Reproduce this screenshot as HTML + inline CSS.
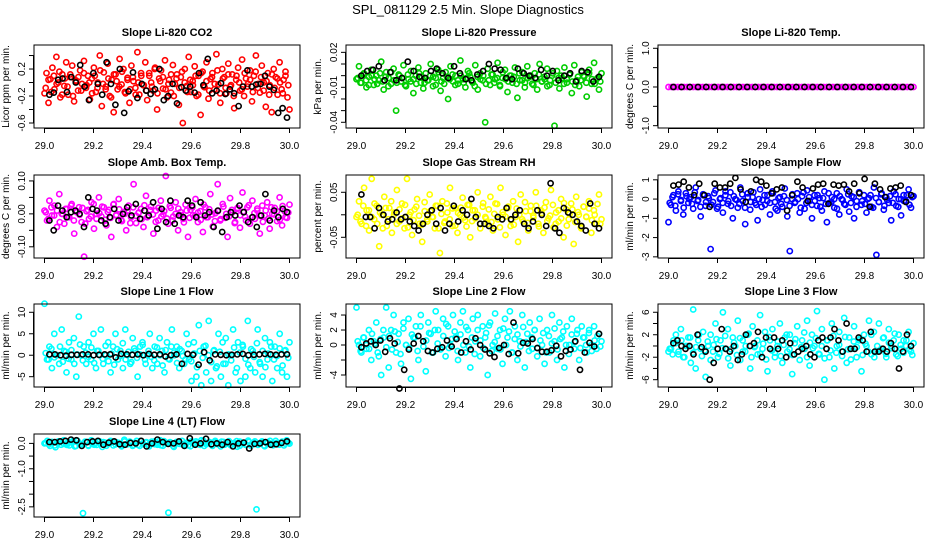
<!DOCTYPE html>
<html><head><meta charset="utf-8"><style>
html,body{margin:0;padding:0;background:#fff;}
svg{display:block;font-family:"Liberation Sans",Arial,sans-serif;}
</style></head><body>
<svg id="chart" width="936" height="540" viewBox="0 0 936 540">
<text x="468" y="14" text-anchor="middle" font-size="13">SPL_081129  2.5 Min. Slope Diagnostics</text>
</svg>
<script>
// x-axis values (days)
const xTicks = [29.0, 29.2, 29.4, 29.6, 29.8, 30.0];
const xTickLabels = ["29.0", "29.2", "29.4", "29.6", "29.8", "30.0"];
const xMin = 29.0, xMax = 30.0;

// Panel 1: CO2 (units 0.01)
const co2Vals = [-16,14,-30,5,22,-10,38,0,-22,12,-5,30,-18,8,25,-28,3,-12,18,-2,32,-8,10,-25,6,22,-14,0,40,-35,15,-6,28,-20,4,-44,12,-10,35,-3,20,-16,7,-30,25,2,-8,45,-18,10,-4,30,-26,14,0,-12,22,-40,6,18,-9,33,-22,4,-15,26,-2,12,-33,8,-60,20,-5,38,-14,2,24,-20,10,-48,16,-7,30,-24,5,14,-10,42,-3,-30,20,8,-16,28,-6,12,-38,4,22,-12,34,-20,6,-2,18,-28,10,40,-8,-15,25,0,-36,14,-4,-44,20,8,-18,30,-10,4,16,-22,-40];
const co2Core = [-8,4,-14,10,-2,16,-18,6,-6,12,-20,2,8,-12,14,-4,0,-16,10,-8,18,-2,-10,6,-22,12,2,-6,16,-14,4,-10,8,-18,0,14,-4,-12,10,-6,20,-16,2,8,-10,-2,12,-20,6,-8,16,0,-14,4,-4,10,-18,14,-6,2,-12,8,-2,18,-16,6,-8,12,-4,-20,10,0,-10,14,-6,4,-14,16,-2,8,-12,2,-18,12,-8,6,0,-16,10,-4];
const co2Black = [-18,-15,4,6,-14,8,0,26,-6,-26,14,-2,-18,30,-2,-33,20,-45,-13,15,-23,-2,-12,-17,-10,20,-26,-20,-2,-31,-7,-12,-6,-15,14,-4,35,-16,-12,-1,-17,-10,-16,-35,-6,18,-6,-3,-2,10,-6,-11,-45,-38,-52];
// Panel 2: pressure (units 0.001)
const presVals = [-3,8,-6,2,-10,-1,5,-8,0,-4,12,-12,3,-2,-7,6,-30,1,-5,9,-9,-3,4,-15,0,7,-6,-11,2,-4,10,-1,-8,5,-13,-2,3,-20,8,-5,0,-7,13,-3,-10,4,-1,-6,9,-12,2,-4,-40,6,-8,1,-3,11,-9,-2,5,-14,0,-6,7,-19,-4,3,-10,8,-1,-7,2,-12,10,-5,-3,6,-8,0,-43,4,-11,-2,7,-6,1,-15,9,-4,-9,3,-1,-18,5,-7,11,-3,-12,2];
const presCore = [-2,-6,1,-4,-8,0,-3,-7,2,-5,-1,-9,3,-4,-6,0,-2,-8,1,-5,-3,-7,2,-1,-6,-4,0,-9,-2,3,-5,-7,-1,-3,1,-8,-4,0,-6,-2,2,-5,-9,-1,-3,0,-7,-4,1,-6,-2,-8,3,-3,-5,0,-1,-7,2,-4,-6,-2,0,-8,-3,1,-5,-1,-9,-4,2,-6,-2,0,-7,-3,1,-5,-8,-1,-4,0,-6,2,-3,-7,-2,-5];
const presBlack = [0,4,5,8,-4,3,-4,-2,12,4,-1,-2,4,6,2,-2,8,2,-3,-4,1,4,10,6,5,-2,-3,6,2,0,-2,5,0,4,-4,0,2,-5,4,3,-5,-1];
// Panel 3: Li-820 temp
const tempVals = [0,0,0,0,0,0,0,0,0,0,0,0,0,0,0,0,0,0,0,0,0,0,0,0,0,0,0,0,0,0,0,0,0,0,0,0,0,0,0,0,0,0,0,0,0,0,0,0,0,0,0,0,0,0,0,0,0,0,0,0,0,0,0,0,0,0,0,0,0,0,0,0,0,0,0,0,0,0,0,0];
const tempCore = [];
const tempBlack = [0,0,0,0,0,0,0,0,0,0,0,0,0,0,0,0,0,0,0,0,0,0,0,0,0,0,0,0,0,0];
// Panel 4: amb box temp (units 0.001)
const ambVals = [10,-20,40,-5,25,-40,60,0,-30,15,-10,30,-60,5,20,-25,-130,8,-15,35,-45,0,50,-8,20,-35,12,-70,30,-3,45,-18,6,-50,25,-10,90,-28,3,15,-40,55,-6,22,-60,10,-20,40,-2,115,-30,18,-8,35,-50,5,-15,28,-70,12,-4,45,-25,8,-55,20,-10,60,-38,2,90,-20,30,-12,-70,48,5,-25,15,-42,65,-8,20,-30,40,-15,10,-60,25,-5,35,-45,0,18,-22,50,-35,8,-12,28];
const ambCore = [5,-15,20,-5,10,-25,0,15,-10,25,-20,8,-3,18,-30,12,-8,30,-15,2,22,-18,6,-12,28,-5,14,-22,0,10,-28,20,-6,4,-16,26,-10,12,-2,-24,18,-8,8,-14,24,-20,0,16,-4,-26,10,-12,20,-6,4,-18,28,-10,14,-2,-22,8,-16,22,0,-8,12,-28,18,-4,6,-20,26,-12,2,16,-6,-24,10,-14,20,-2,8,-18,24,-10,4];
const ambBlack = [-20,-50,25,10,-10,5,10,0,-40,50,15,10,-20,-30,-10,15,-20,0,20,-5,30,-15,10,-5,35,-45,15,-25,40,-30,-5,-10,40,25,-10,35,-5,5,-40,10,-55,-10,5,-5,25,5,-25,-10,-40,-5,60,-20,10,-10,15,5];
// Panel 5: RH (units 0.001)
const rhVals = [-5,30,-20,60,10,-35,80,-10,20,-70,0,40,-25,15,-40,5,55,-15,25,-30,80,0,-45,12,35,-20,-60,8,-10,45,-5,-30,20,-85,30,-15,5,60,-25,15,-40,0,38,-12,22,-50,10,-8,50,-30,18,-5,-20,40,-35,25,-10,60,0,-45,15,-25,30,-5,-60,45,-15,8,-35,20,-2,50,-20,10,-40,28,-8,55,-28,5,-15,35,-50,12,-10,25,-65,40,0,-30,18,-5,30,-40,10,-20,45,-10];
const rhCore = [0,-15,20,-25,10,-5,25,-20,5,-30,15,-10,30,0,-20,12,-8,22,-28,6,-12,18,-2,-22,28,-15,8,-5,20,-30,2,-18,25,-10,14,-24,4,16,-6,-26,22,-14,10,0,-20,26,-8,12,-16,2,24,-28,6,-4,18,-12,-22,14,0,-10,28,-18,8,-6,20,-26,4,16,-14,-2,22,-20,10,-8,26,-24,2,12,-16,6,-28,18,-4,14,-12,0,24,-20];
const rhBlack = [45,-5,-5,-30,15,0,-15,-10,5,-10,-5,-15,-25,-35,-20,0,10,-20,15,-35,-20,20,-15,10,0,35,-5,-20,-20,-25,-30,-5,-10,15,-10,0,10,-20,-30,-15,10,0,-25,70,-30,-40,15,5,0,-15,-25,-35,25,-20,-30];
// Panel 6: sample flow (units 0.01)
const flowVals = [-120,-30,20,-60,40,-10,-80,30,-20,10,-50,60,-5,-90,25,-35,15,-260,-15,45,-40,5,-70,20,-25,35,-100,0,-45,60,-10,-130,30,-55,10,-20,-110,50,-5,-30,20,-80,40,-15,-60,10,-40,55,-90,-270,0,-20,30,-70,15,-50,45,-10,-100,20,-35,5,-60,40,-120,-20,10,-45,30,-80,0,-25,50,-65,15,-100,-10,35,-30,20,-70,5,-40,60,-290,-15,25,-55,10,-20,-110,40,-35,0,-85,20,-10,50,-45,15];
const flowCore = [-20,10,-35,25,-5,-45,15,0,-25,35,-10,-40,20,-15,5,-30,30,-50,0,-20,40,-10,-35,15,-5,-25,25,-45,10,-15,35,-30,0,-40,20,-10,-20,30,-50,5,-25,15,-5,-35,25,-15,0,-45,35,-20,10,-30,-10,20,-40,5,-25,30,-15,0,-50,15,-5,-30,25,-20,10,-40,35,-10,-25,0,20,-45,5,-15,30,-35,-5,15,-20,25,-40,0,-10,20,-30,10];
const flowBlack = [70,75,90,60,20,80,20,-40,80,60,60,80,110,50,-15,40,100,90,70,30,50,60,-60,20,90,60,-10,55,75,80,-25,75,70,75,40,80,30,105,-40,80,50,10,55,60,70,-15,20];
// Panel 7: line 1 (units 0.1)
const l1Vals = [120,-10,20,-30,50,0,-20,60,10,-40,30,-10,40,-50,90,0,20,-20,30,-10,50,-30,10,60,-20,0,30,-40,20,50,-10,10,-30,60,0,-20,40,10,-50,20,30,-10,0,50,-30,20,-20,40,10,-40,30,-10,60,0,20,-30,10,-20,50,-10,-60,30,-50,70,-70,20,-40,80,-60,10,-30,50,-50,-20,40,-70,0,60,-40,30,-60,20,-50,80,-30,10,-40,60,-20,-50,40,-10,30,-60,20,-30,50,-40,10,-50,30];
const l1Core = [5,-10,15,-5,0,20,-15,8,-8,12,-20,2,25,-12,6,-4,18,-18,10,0,-8,22,-14,4,-22,14,-2,28,-10,8,-16,16,-6,2,24,-20,10,-4,-12,18,0,-24,12,-8,20,6,-18,14,-2,-10,26,-14,4,-28,10,-6,22,0,-16,12,-26,8,30,-20,2,-12,18,-30,6,24,-8,-22,14,-4,28,-16,10,-28,4,20,-10,-2,16,-24,12,-6];
const l1Black = [2,2,0,-1,1,1,2,2,0,1,2,2,-5,3,2,1,2,0,3,1,2,-3,0,2,-20,3,1,-22,7,-12,2,1,0,1,2,3,0,1,2,3,2,1,2,2];
// Panel 8: line 2 (units 0.1)
const l2Vals = [50,0,-10,10,-5,20,-20,5,30,-15,-40,10,50,-30,20,40,-10,15,-25,30,0,35,-45,10,25,-20,40,5,-35,30,15,-10,45,20,-5,35,-15,25,0,40,10,-20,30,45,-10,20,-30,35,5,40,-15,25,10,-40,30,0,42,-5,20,-25,35,10,45,-10,25,-20,5,40,-30,15,30,-5,20,-15,35,0,-25,20,-10,40,5,-20,30,10,-30,25,0,35,-5,15,-20,25,10,-10,20,0,25,-5,15,5];
const l2Core = [5,-8,10,0,-5,15,2,-10,8,20,-3,12,-6,18,4,-12,22,0,-4,14,10,-8,25,-2,6,16,-10,20,2,-6,12,28,-4,8,18,-8,14,0,24,-2,10,-12,20,6,-4,16,26,-8,4,12,-6,22,0,18,-10,8,14,-2,24,4,-8,10,20,-4,6,16,-10,12,2,22,-6,8,18,0,-12,14,4,20,-4,10,0,16,-8,6,12,-2];
const l2Black = [-3,2,5,0,6,-9,9,2,-58,-33,-6,2,12,5,-8,-10,-5,-3,6,-2,8,-10,5,-6,9,0,-6,-11,-16,-4,0,-12,30,-11,3,2,8,-4,-9,-9,-7,-1,-15,-8,-6,5,-33,-10,3,-2,15];
// Panel 9: line 3 (units 0.1)
const l3Vals = [-10,-5,10,20,-15,30,-20,0,15,-30,65,-40,10,-5,25,-55,0,20,-10,40,-20,10,60,-5,30,-35,15,0,45,-25,10,-10,20,-40,35,0,-15,55,-5,25,-45,10,30,-20,0,40,-30,15,-10,20,-50,5,35,-25,10,-5,45,-35,20,0,62,-15,30,-60,10,-20,40,-40,0,25,-10,50,-30,15,-5,35,-20,10,-45,20,0,45,-15,25,-10,40,-5,15,-20,30,0,10,-15,20,-5,10,0,25,-10,5];
const l3Core = [-5,-15,5,-10,10,-20,0,15,-12,-2,20,-18,-8,8,-25,2,12,-14,-4,18,-22,-6,6,-16,14,-10,0,22,-20,-2,10,-14,4,-24,16,-8,-12,8,-18,2,20,-6,-16,12,-10,-2,24,-20,6,-4,14,-14,0,-22,10,-8,18,-12,2,-18,16,-6,-24,8,-2,12,-16,4,-10,20,-20,0,-8,14,-14,6,-4,22,-18,2,-12,10,-6,-16];
const l3Black = [5,10,0,-5,0,-15,20,-2,-10,-60,-30,-5,30,-5,-10,0,-25,-15,20,0,5,25,-20,15,-5,15,-5,10,-20,5,-15,-10,-5,0,-15,-20,10,15,-5,15,30,10,-10,40,-5,-5,15,10,-10,25,-10,-10,-5,-10,5,-5,-40,-10,20,0];
// Panel 10: line 4 (units 0.01)
const l4Vals = [0,10,-10,5,-15,8,-5,12,0,-8,6,-12,10,-3,-275,5,-10,12,0,-6,8,-14,3,-2,10,-8,5,0,-12,14,-4,7,-10,2,-6,10,-3,5,-12,0,8,-5,12,-9,3,-273,0,-14,6,-2,10,-7,4,-11,1,8,-4,12,-10,0,5,-8,10,-3,-12,6,-1,9,-6,2,-13,7,0,-5,11,-9,3,-260,-2,8,-11,5,0,-7,10,-4,2,-8,12,-1];
const l4Core = [2,-4,6,-8,0,8,-2,-6,4,10,-10,1,-3,7,-7,3,-5,9,-1,5,-9,0,6,-4,2,-8,8,-2,4,-6,10,-10,0,3,-5,7,-3,1,-7,9,-1,5,-9,2,6,-4,0,-8,8,-2,4,-6,10,-3,1,-10,5,-1,7,-5,3,-7,0,9,-9,2,-4,6,-2,8,-6,4,-8,0,10,-3,1,-5,7,-1,3];
const l4Black = [5,5,8,10,15,12,-10,5,8,10,-5,3,8,-3,-5,2,0,10,-12,0,15,5,-2,0,8,-10,20,-5,0,18,-3,0,-5,5,-12,0,3,-20,-2,0,5,-5,-3,2,8];

// y tick values and labels per panel
const yTicks1 = [-0.6,-0.4,-0.2,0,0.2,0.4]; const yLabels1 = ["-0.6","","-0.2","","0.2",""];
const yTicks2 = [-0.04,-0.03,-0.02,-0.01,0,0.01,0.02]; const yLabels2 = ["-0.04","","","-0.01","","","0.02"];
const yTicks3 = [-1,-0.5,0,0.5,1]; const yLabels3 = ["-1.0","","0.0","","1.0"];
const yTicks4 = [-0.1,-0.05,0,0.05,0.1]; const yLabels4 = ["-0.10","","0.00","","0.10"];
const yTicks5 = [-0.05,0,0.05]; const yLabels5 = ["-0.05","","0.05"];
const yTicks6 = [-3,-2,-1,0,1]; const yLabels6 = ["-3","-2","-1","0","1"];
const yTicks7 = [-5,0,5,10]; const yLabels7 = ["-5","0","5","10"];
const yTicks8 = [-4,-2,0,2,4]; const yLabels8 = ["-4","","0","2","4"];
const yTicks9 = [-6,-4,-2,0,2,4,6]; const yLabels9 = ["-6","","-2","","2","","6"];
const yTicks10 = [-2.5,-2,-1.5,-1,-0.5,0]; const yLabels10 = ["-2.5","","","-1.0","","0.0"];

const panels = [
 {name:"co2",title:"Slope Li-820 CO2",ylab:"Licor ppm per min.",col:"#ff0000",vals:co2Vals,core:co2Core,blk:co2Black,k:0.01,ylo:-0.674,yhi:0.556,t:yTicks1,l:yLabels1,c:0,r:0},
 {name:"pressure",title:"Slope Li-820 Pressure",ylab:"kPa per min.",col:"#00cd00",vals:presVals,core:presCore,blk:presBlack,k:0.001,ylo:-0.0449,yhi:0.0263,t:yTicks2,l:yLabels2,c:1,r:0},
 {name:"li820-temp",title:"Slope Li-820 Temp.",ylab:"degrees C per min.",col:"#ff00ff",vals:tempVals,core:tempCore,blk:tempBlack,k:1,ylo:-1.06,yhi:1.085,t:yTicks3,l:yLabels3,c:2,r:0},
 {name:"amb-box-temp",title:"Slope Amb. Box Temp.",ylab:"degrees C per min.",col:"#ff00ff",vals:ambVals,core:ambCore,blk:ambBlack,k:0.001,ylo:-0.134,yhi:0.118,t:yTicks4,l:yLabels4,c:0,r:1},
 {name:"gas-stream-rh",title:"Slope Gas Stream RH",ylab:"percent per min.",col:"#ffff00",vals:rhVals,core:rhCore,blk:rhBlack,k:0.001,ylo:-0.096,yhi:0.0884,t:yTicks5,l:yLabels5,c:1,r:1},
 {name:"sample-flow",title:"Slope Sample Flow",ylab:"ml/min per min.",col:"#0000ff",vals:flowVals,core:flowCore,blk:flowBlack,k:0.01,ylo:-3.06,yhi:1.25,t:yTicks6,l:yLabels6,c:2,r:1},
 {name:"line1-flow",title:"Slope Line 1 Flow",ylab:"ml/min per min.",col:"#00ffff",vals:l1Vals,core:l1Core,blk:l1Black,k:0.1,ylo:-7.4,yhi:11.93,t:yTicks7,l:yLabels7,c:0,r:2},
 {name:"line2-flow",title:"Slope Line 2 Flow",ylab:"ml/min per min.",col:"#00ffff",vals:l2Vals,core:l2Core,blk:l2Black,k:0.1,ylo:-5.6,yhi:5.47,t:yTicks8,l:yLabels8,c:1,r:2},
 {name:"line3-flow",title:"Slope Line 3 Flow",ylab:"ml/min per min.",col:"#00ffff",vals:l3Vals,core:l3Core,blk:l3Black,k:0.1,ylo:-7.3,yhi:7.47,t:yTicks9,l:yLabels9,c:2,r:2},
 {name:"line4-flow",title:"Slope Line 4 (LT) Flow",ylab:"ml/min per min.",col:"#00ffff",vals:l4Vals,core:l4Core,blk:l4Black,k:0.01,ylo:-2.9,yhi:0.37,t:yTicks10,l:yLabels10,c:0,r:3}
];

const NS = "http://www.w3.org/2000/svg";
const svg = document.getElementById("chart");
const colLeft = [34, 346, 658], rowTop = [45, 175, 304, 434];
const W = 266, H = 83, PADX = 10.5;

function mk(tag, attrs, parent) {
  const e = document.createElementNS(NS, tag);
  for (const a in attrs) e.setAttribute(a, attrs[a]);
  parent.appendChild(e);
  return e;
}

panels.forEach(p => {
  const L = colLeft[p.c], T = rowTop[p.r];
  const xs = v => L + PADX + (v - xMin) / (xMax - xMin) * (W - 2 * PADX);
  const ys = v => T + H - (v - p.ylo) / (p.yhi - p.ylo) * H;
  const g = mk("g", {}, svg);
  
  

  const title = mk("text", {x: L + W / 2, y: T - 9, "text-anchor": "middle", "font-size": "11", "font-weight": "bold"}, g);
  title.textContent = p.title;
  
  

  const pts = mk("g", {fill: "none"}, g);
  
  
  const drawSeries = (arr, x0, x1, color, label) => {
    const n = arr.length;
    arr.forEach((v, i) => {
      const x = x0 + (x1 - x0) * i / Math.max(1, n - 1);
      const c = mk("circle", {cx: xs(x).toFixed(1), cy: ys(v * p.k).toFixed(1), r: 2.6, stroke: color, "stroke-width": 1.6}, pts);
      
      
    });
  };
  drawSeries(p.vals, 29.0, 30.0, p.col, p.name + '-point');
  drawSeries(p.core, 29.005, 29.995, p.col, p.name + '-point');
  drawSeries(p.blk, 29.02, 29.99, "#000", p.name + '-reference-point');

  const box = mk("rect", {x: L, y: T, width: W, height: H, fill: "none", stroke: "#000", "stroke-width": 1}, g);
  
  

  const xa = mk("g", {}, g);
  
  
  mk("line", {x1: xs(xTicks[0]), x2: xs(xTicks[xTicks.length - 1]), y1: T + H + 0.5, y2: T + H + 0.5, stroke: "#000"}, xa);
  xTicks.forEach((t, i) => {
    mk("line", {x1: xs(t), x2: xs(t), y1: T + H, y2: T + H + 5, stroke: "#000"}, xa);
    const tx = mk("text", {x: xs(t), y: T + H + 21, "text-anchor": "middle", "font-size": "10"}, xa);
    tx.textContent = xTickLabels[i];
    
    
  });

  const ya = mk("g", {}, g);
  
  
  mk("line", {x1: L - 0.5, x2: L - 0.5, y1: ys(p.t[0]), y2: ys(p.t[p.t.length - 1]), stroke: "#000"}, ya);
  p.t.forEach((t, i) => {
    const y = ys(t);
    mk("line", {x1: L - 5, x2: L, y1: y, y2: y, stroke: "#000"}, ya);
    if (p.l[i]) {
      const tx = mk("text", {x: L - 9, y: y, "text-anchor": "middle", "font-size": "10", transform: `rotate(-90 ${L - 9} ${y})`}, ya);
      tx.textContent = p.l[i];
      
      
    }
  });
  const yt = mk("text", {x: L - 25, y: T + H / 2, "text-anchor": "middle", "font-size": "10", transform: `rotate(-90 ${L - 25} ${T + H / 2})`}, g);
  yt.textContent = p.ylab;
  
  
});
</script>
</body></html>
